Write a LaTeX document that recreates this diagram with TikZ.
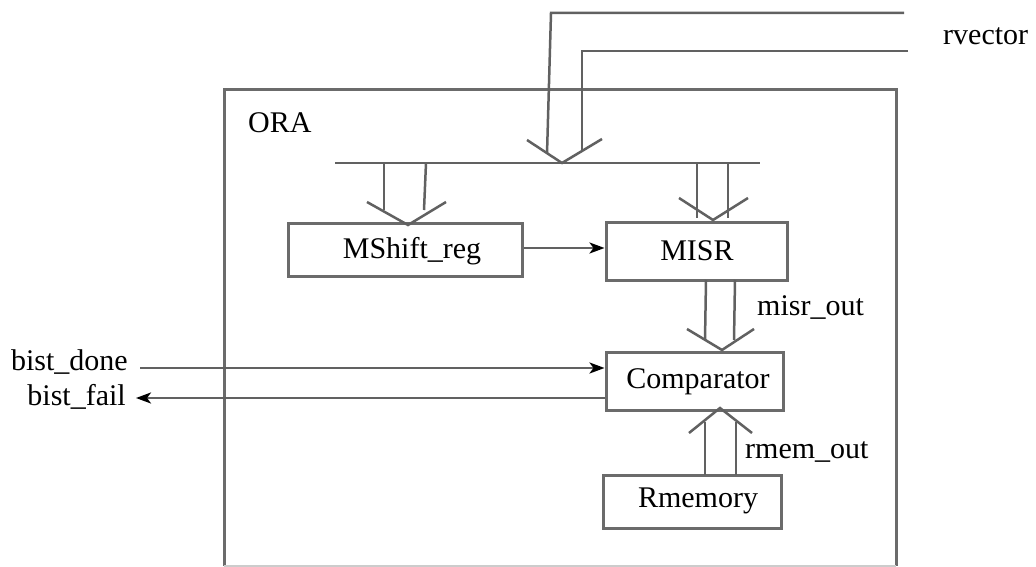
\documentclass[tikz,border=0pt]{standalone}
\usepackage{fontspec}
\setmainfont{Liberation Serif}
\usetikzlibrary{arrows.meta,calc}
\begin{document}
\begin{tikzpicture}[x=1pt,y=-1pt,
  wire/.style={draw=black!62,line width=2.5pt},
  blk/.style={draw=black!58,line width=3pt,inner sep=0pt,rectangle},
  lbl/.style={inner sep=0pt,font=\fontsize{30}{36}\selectfont},
  sig/.style={wire,-{Stealth[length=15pt,width=11pt,inset=4pt,color=black]}},
  vhead/.style={wire,line join=miter}]
\useasboundingbox (0,0) rectangle (1036,567);
\fill[white] (0,0) rectangle (1036,567);

% ORA enclosure
\draw[draw=black!58,line width=3pt] (224,566) -- (224,90) -- (896,90) -- (896,566);
\draw[draw=black!20,line width=1.5pt] (224,566) -- (896,566);
\node[lbl,anchor=base west] (ora) at (248,132) {ORA};

% blocks
\node[blk,minimum width=234pt,minimum height=53pt] (msr) at (405,249.5) {};
\node[lbl,anchor=base] (msrt) at (412,258) {MShift\_reg};
\node[blk,minimum width=181pt,minimum height=58pt] (misr) at (696.5,251) {};
\node[lbl,anchor=base] (misrt) at (697,260) {MISR};
\node[blk,minimum width=177pt,minimum height=58pt] (comp) at (694.5,381) {};
\node[lbl,anchor=base] (compt) at (698,388) {Comparator};
\node[blk,minimum width=178pt,minimum height=53pt] (rmem) at (692,501.5) {};
\node[lbl,anchor=base] (rmemt) at (698,507) {Rmemory};

% external signal labels
\node[lbl,anchor=base west] (rvec) at (943,45) {rvector};
\node[lbl,anchor=base east] (bdone) at (128,370) {bist\_done};
\node[lbl,anchor=base east] (bfail) at (126,405) {bist\_fail};
\node[lbl,anchor=base west] (misro) at (757,315) {misr\_out};
\node[lbl,anchor=base west] (rmemo) at (745,458) {rmem\_out};

% rvector bus into the ORA
\coordinate (r1) at (904,13);
\coordinate (r2) at (908,51);
\draw[wire] (r1) -- (551,13) -- (547,154);
\draw[wire] (r2) -- (582,51) -- (582,150);
\draw[vhead] (527,140) -- (562,163) -- (602,139);

% internal distribution bus
\coordinate (busl) at (335,163);
\coordinate (busr) at (760,163);
\draw[wire] (busl) -- (busr);

% bus -> MShift_reg
\draw[wire] (384,163) -- (384,210);
\draw[wire] (426,163) -- (424,210);
\draw[vhead] (367,202) -- (408,225) -- (446,202);

% bus -> MISR
\draw[wire] (697,163) -- (697,218);
\draw[wire] (728,163) -- (728,218);
\draw[vhead] (679,198) -- (713,220) -- (748,198);

% MShift_reg -> MISR
\draw[sig] (msr.east |- 0,248) -- (misr.west |- 0,248);

% MISR -> Comparator (misr_out)
\draw[wire] (706,280) -- (705,340);
\draw[wire] (735,280) -- (734,340);
\draw[vhead] (687,329) -- (722,350) -- (754,329);

% Rmemory -> Comparator (rmem_out)
\draw[wire] (705,475) -- (705,422);
\draw[wire] (736,475) -- (736,422);
\draw[vhead] (689,433) -- (720,408) -- (752,433);

% bist_done in, bist_fail out
\draw[sig] (140,368) -- (comp.west |- 0,368);
\draw[sig] (comp.west |- 0,398) -- (136,398);
\end{tikzpicture}
\end{document}
